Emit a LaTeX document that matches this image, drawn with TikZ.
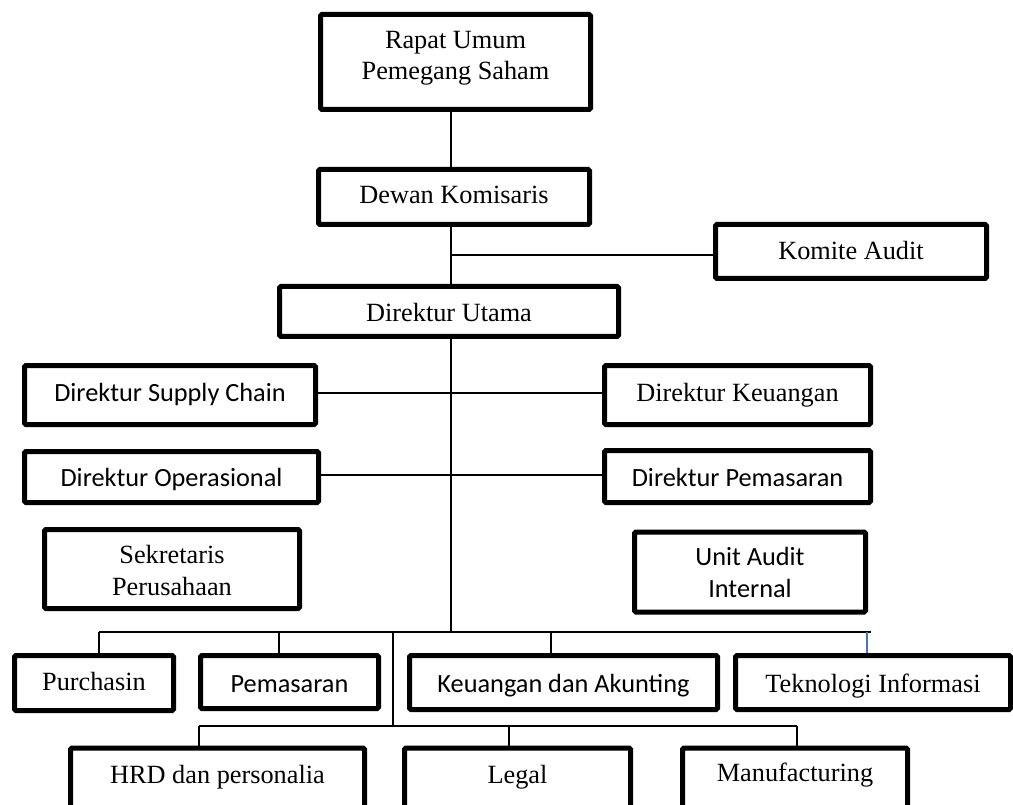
\documentclass[tikz,border=0pt]{standalone}
\usepackage{fontspec}
\setmainfont{Liberation Serif}
\newfontfamily\calibrifont{Carlito}
\begin{document}
\begin{tikzpicture}[x=1pt, y=-1pt,
  box/.style={draw=black, line width=5pt, rounded corners=1.5pt, inner sep=0pt,
    align=center, font=\fontsize{26.3}{31.5}\selectfont},
  tb/.style={box, text depth=5.8pt, text height=#1},
  sans/.style={font=\fontsize{26.3}{31.5}\selectfont\calibrifont},
  link/.style={draw=black, line width=1.6pt},
  itlink/.style={draw={rgb,255:red,68;green,114;blue,196}, line width=1.2pt}
]
\useasboundingbox (0,0) rectangle (1013,805);
\clip (0,0) rectangle (1013,805);

% board and top management
\node[box, text depth=5.8pt, text height=41.8pt, minimum width=270pt, minimum height=95pt] (rups) at (455.5,62) {Rapat Umum\\Pemegang Saham};
\node[tb=19.8pt, minimum width=271pt, minimum height=55pt] (dewan) at (454,197) {Dewan Komisaris};
\node[tb=22.8pt, minimum width=271pt, minimum height=54pt] (komite) at (851,251.5) {Komite Audit};
\node[tb=25.8pt, minimum width=339pt, minimum height=50pt] (utama) at (449,311.5) {Direktur Utama};

% directors
\node[tb=19.2pt, sans, minimum width=291pt, minimum height=59pt] (dsc) at (170,395) {Direktur Supply Chain};
\node[tb=17.8pt, minimum width=266pt, minimum height=59pt] (dkeu) at (737.5,395) {Direktur Keuangan};
\node[tb=25.2pt, sans, minimum width=294pt, minimum height=51pt] (dops) at (171.5,477) {Direktur Operasional};
\node[tb=25.8pt, sans, minimum width=266pt, minimum height=52pt] (dpem) at (737.5,476.5) {Direktur Pemasaran};

% staff units
\node[box, text depth=5.8pt, text height=57.8pt, minimum width=255pt, minimum height=79pt] (sekr) at (172,569) {Sekretaris\\Perusahaan};
\node[box, sans, text depth=5.8pt, text height=55.8pt, minimum width=231pt, minimum height=80pt] (uai) at (750,572) {Unit Audit\\Internal};

% departments, first row
\node[tb=21.2pt, minimum width=159pt, minimum height=55pt] (purch) at (94,683) {Purchasin};
\node[tb=26.4pt, sans, minimum width=178pt, minimum height=53pt] (pem) at (289.5,682) {Pemasaran};
\node[tb=24.8pt, sans, minimum width=308pt, minimum height=54pt] (keu) at (563.5,682.5) {Keuangan dan Akunting};
\node[tb=24.8pt, minimum width=275pt, minimum height=54pt] (tek) at (873,682.5) {Teknologi Informasi};

% departments, second row
\node[tb=14.4pt, minimum width=294pt, minimum height=62pt] (hrd) at (217.5,779) {HRD dan personalia};
\node[tb=14.4pt, minimum width=226pt, minimum height=62pt] (legal) at (517.5,779) {Legal};
\node[tb=11.2pt, minimum width=225pt, minimum height=62pt] (manuf) at (795,779) {Manufacturing};

% junction points
\coordinate (trunk) at (451,0);
\coordinate (kj) at (451,255);
\coordinate (bus1) at (451,632);
\coordinate (bus1R) at (871,632);
\coordinate (bus2top) at (393,632);
\coordinate (bus2) at (393,726);

% vertical line of command
\draw[link] (rups.south -| trunk) -- (dewan.north -| trunk);
\draw[link] (dewan.south -| trunk) -- (utama.north -| trunk);
\draw[link] (kj) -- (kj -| komite.west);
\draw[link] (utama.south -| trunk) -- (bus1);

% directors attached to the trunk
\draw[link] ([yshift=2pt]dsc.east) -- ([yshift=2pt]dsc.east -| trunk);
\draw[link] ([yshift=2pt]dkeu.west) -- ([yshift=2pt]dkeu.west -| trunk);
\draw[link] ([yshift=2pt]dops.east) -- ([yshift=2pt]dops.east -| trunk);
\draw[link] ([yshift=1.5pt]dpem.west) -- ([yshift=1.5pt]dpem.west -| trunk);

% first department bus
\draw[link] ([xshift=5pt]purch.north |- bus1) -- (bus1R);
\draw[link] ([xshift=5pt]purch.north) -- ([xshift=5pt]purch.north |- bus1);
\draw[link] ([xshift=-10.5pt]pem.north) -- ([xshift=-10.5pt]pem.north |- bus1);
\draw[link] ([xshift=-12.5pt]keu.north) -- ([xshift=-12.5pt]keu.north |- bus1);
\draw[itlink] ([xshift=-6pt]tek.north) -- ([xshift=-6pt]tek.north |- bus1);

% second department bus
\draw[link] (bus2top) -- (bus2);
\draw[link] ([xshift=-18.5pt]hrd.north |- bus2) -- ([xshift=2pt]manuf.north |- bus2);
\draw[link] ([xshift=-18.5pt]hrd.north) -- ([xshift=-18.5pt]hrd.north |- bus2);
\draw[link] ([xshift=-8.5pt]legal.north) -- ([xshift=-8.5pt]legal.north |- bus2);
\draw[link] ([xshift=2pt]manuf.north) -- ([xshift=2pt]manuf.north |- bus2);
\end{tikzpicture}
\end{document}
